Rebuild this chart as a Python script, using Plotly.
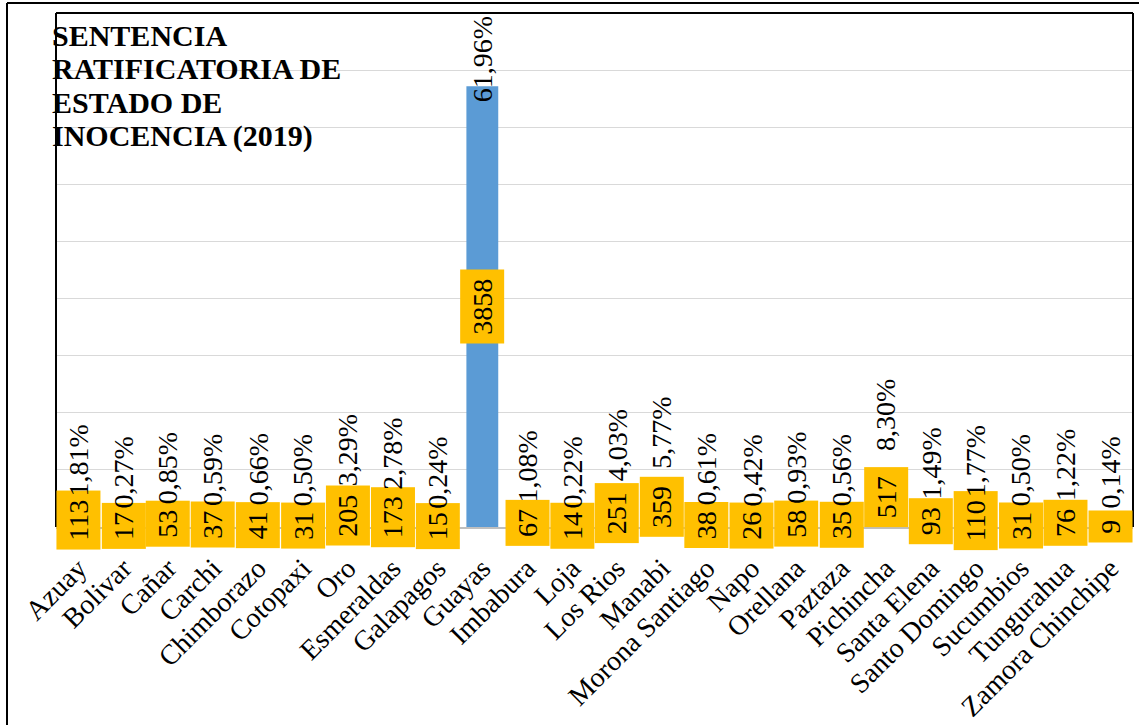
import plotly.graph_objects as go

provincias = ["Azuay", "Bolivar", "Cañar", "Carchi", "Chimborazo", "Cotopaxi", "Oro",
              "Esmeraldas", "Galapagos", "Guayas", "Imbabura", "Loja", "Los Rios", "Manabi",
              "Morona Santiago", "Napo", "Orellana", "Paztaza", "Pichincha", "Santa Elena",
              "Santo Domingo", "Sucumbios", "Tungurahua", "Zamora Chinchipe"]
casos = [113, 17, 53, 37, 41, 31, 205, 173, 15, 3858, 67, 14, 251, 359,
         38, 26, 58, 35, 517, 93, 110, 31, 76, 9]
porcentajes = ["1,81%", "0,27%", "0,85%", "0,59%", "0,66%", "0,50%", "3,29%", "2,78%",
               "0,24%", "61,96%", "1,08%", "0,22%", "4,03%", "5,77%", "0,61%", "0,42%",
               "0,93%", "0,56%", "8,30%", "1,49%", "1,77%", "0,50%", "1,22%", "0,14%"]
titulo = ["SENTENCIA", "RATIFICATORIA DE", "ESTADO DE", "INOCENCIA (2019)"]

FONT = "Liberation Serif"
FS = 28
W, H = 1139, 725
ML, MR, MT, MB = 56, 6, 13, 198
YMAX = 4500
plot_h = H - MT - MB
plot_w = W - ML - MR

fig = go.Figure()
fig.add_trace(go.Bar(
    x=provincias, y=casos, marker=dict(color="#5B9BD5", line=dict(width=0)),
    hoverinfo="x+y"))

HAIR = "\u200a"
annotations = []
for p, v, pct in zip(provincias, casos, porcentajes):
    # value label, centred in bar, yellow box
    annotations.append(dict(
        x=p, y=v / 2, xref="x", yref="y", text=HAIR + str(v) + HAIR, showarrow=False,
        textangle=-90, font=dict(family=FONT, size=FS, color="black"),
        bgcolor="#FFC000", borderpad=6, xanchor="center", yanchor="middle"))
    # percentage label, outside end
    space_px = (YMAX - v) / YMAX * plot_h
    if space_px < 110:
        annotations.append(dict(
            x=p, y=1, xref="x", yref="paper", text=pct, showarrow=False,
            textangle=-90, font=dict(family=FONT, size=FS, color="black"),
            borderpad=1, xanchor="center", yanchor="top", yshift=-1))
    else:
        annotations.append(dict(
            x=p, y=v, xref="x", yref="y", text=pct, showarrow=False,
            textangle=-90, font=dict(family=FONT, size=FS, color="black"),
            borderpad=1, xanchor="center", yanchor="bottom", yshift=15))

for i, line in enumerate(titulo):
    annotations.append(dict(
        x=0, y=1, xref="paper", yref="paper", text="<b>" + line + "</b>",
        showarrow=False, align="left", xanchor="left", yanchor="middle",
        xshift=-6, yshift=-(22 + i * 33.5),
        font=dict(family=FONT, size=30, color="black")))

shapes = [
    # plot area frame (left, top, right)
    dict(type="line", xref="paper", yref="paper", x0=0, x1=0, y0=0, y1=1,
         line=dict(color="black", width=2)),
    dict(type="line", xref="paper", yref="paper", x0=0, x1=1, y0=1, y1=1,
         line=dict(color="black", width=2)),
    dict(type="line", xref="paper", yref="paper", x0=1, x1=1, y0=0, y1=1,
         line=dict(color="black", width=2)),
    # outer chart frame (left, top)
    dict(type="line", xref="paper", yref="paper",
         x0=(7 - ML) / plot_w, x1=(7 - ML) / plot_w, y0=-MB / plot_h - 0.05,
         y1=1 + (MT - 3) / plot_h, line=dict(color="black", width=2)),
    dict(type="line", xref="paper", yref="paper",
         x0=(7 - ML) / plot_w, x1=1 + MR / plot_w + 0.05,
         y0=1 + (MT - 3) / plot_h, y1=1 + (MT - 3) / plot_h,
         line=dict(color="black", width=2)),
]

fig.update_layout(
    width=W, height=H,
    margin=dict(l=ML, r=MR, t=MT, b=MB, autoexpand=False),
    paper_bgcolor="white", plot_bgcolor="white",
    showlegend=False, bargap=0.29,
    annotations=annotations, shapes=shapes,
    font=dict(family=FONT, size=FS, color="black"),
    xaxis=dict(type="category", tickangle=-45, showgrid=False,
               showline=True, linecolor="#BFBFBF", linewidth=1.5,
               ticks="", tickfont=dict(family=FONT, size=28, color="black"),
               automargin=False, ticklabelstandoff=12),
    yaxis=dict(range=[0, YMAX], dtick=500, showticklabels=False,
               showgrid=True, gridcolor="#D9D9D9", gridwidth=1.3,
               zeroline=False, showline=False, automargin=False),
)

fig.write_html("out.html",
               config={"displayModeBar": False},
               post_script="document.body.style.margin='0px';"
                           "document.body.style.overflow='hidden';")
